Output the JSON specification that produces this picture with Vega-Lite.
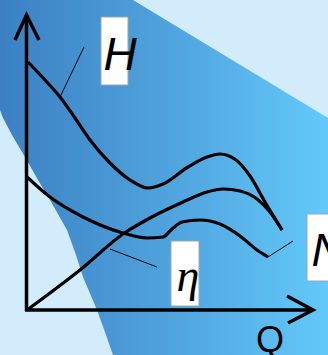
{
  "$schema": "https://vega.github.io/schema/vega-lite/v6.json",
  "width": 328,
  "height": 355,
  "autosize": {"type": "none"},
  "padding": 0,
  "background": "#d3ecfb",
  "config": {"view": {"stroke": null}},
  "datasets": {
    "band": [
      {"y": 0, "xl": 0, "xr": 133},
      {"y": 50, "xl": 0, "xr": 215.6},
      {"y": 110, "xl": 0, "xr": 314.8},
      {"y": 118, "xl": 3, "xr": 328},
      {"y": 135, "xl": 12, "xr": 328},
      {"y": 157, "xl": 25, "xr": 328},
      {"y": 180, "xl": 38, "xr": 328},
      {"y": 200, "xl": 50, "xr": 328},
      {"y": 230, "xl": 67, "xr": 328},
      {"y": 255, "xl": 76, "xr": 328},
      {"y": 277, "xl": 83, "xr": 328},
      {"y": 310, "xl": 97, "xr": 328},
      {"y": 335, "xl": 106, "xr": 328},
      {"y": 355, "xl": 113, "xr": 328}
    ],
    "curves": [
      {"s": "H", "i": 0, "x": 28, "y": 62},
      {"s": "H", "i": 1, "x": 45, "y": 80},
      {"s": "H", "i": 2, "x": 60, "y": 97},
      {"s": "H", "i": 3, "x": 75, "y": 118},
      {"s": "H", "i": 4, "x": 90, "y": 140},
      {"s": "H", "i": 5, "x": 110, "y": 163},
      {"s": "H", "i": 6, "x": 130, "y": 180},
      {"s": "H", "i": 7, "x": 148, "y": 188},
      {"s": "H", "i": 8, "x": 163, "y": 184},
      {"s": "H", "i": 9, "x": 188, "y": 167},
      {"s": "H", "i": 10, "x": 207, "y": 157},
      {"s": "H", "i": 11, "x": 220, "y": 154},
      {"s": "H", "i": 12, "x": 236, "y": 160},
      {"s": "H", "i": 13, "x": 250, "y": 176},
      {"s": "H", "i": 14, "x": 265, "y": 202},
      {"s": "H", "i": 15, "x": 282, "y": 230},
      {"s": "M", "i": 0, "x": 27, "y": 310},
      {"s": "M", "i": 1, "x": 80, "y": 270},
      {"s": "M", "i": 2, "x": 123, "y": 234},
      {"s": "M", "i": 3, "x": 150, "y": 218},
      {"s": "M", "i": 4, "x": 183, "y": 202},
      {"s": "M", "i": 5, "x": 207, "y": 192},
      {"s": "M", "i": 6, "x": 223, "y": 189},
      {"s": "M", "i": 7, "x": 240, "y": 191},
      {"s": "M", "i": 8, "x": 257, "y": 199},
      {"s": "M", "i": 9, "x": 270, "y": 212},
      {"s": "M", "i": 10, "x": 282, "y": 230},
      {"s": "E", "i": 0, "x": 27, "y": 177},
      {"s": "E", "i": 1, "x": 50, "y": 197},
      {"s": "E", "i": 2, "x": 83, "y": 217},
      {"s": "E", "i": 3, "x": 123, "y": 233},
      {"s": "E", "i": 4, "x": 147, "y": 238},
      {"s": "E", "i": 5, "x": 163, "y": 237},
      {"s": "E", "i": 6, "x": 172, "y": 229},
      {"s": "E", "i": 7, "x": 182, "y": 222},
      {"s": "E", "i": 8, "x": 200, "y": 220},
      {"s": "E", "i": 9, "x": 220, "y": 224},
      {"s": "E", "i": 10, "x": 240, "y": 236},
      {"s": "E", "i": 11, "x": 257, "y": 250},
      {"s": "E", "i": 12, "x": 268, "y": 257}
    ],
    "axes": [
      {"s": "v", "i": 0, "x": 26.5, "y": 15},
      {"s": "v", "i": 1, "x": 26.5, "y": 311},
      {"s": "h", "i": 0, "x": 25, "y": 310},
      {"s": "h", "i": 1, "x": 312, "y": 310},
      {"s": "at", "i": 0, "x": 15, "y": 40},
      {"s": "at", "i": 1, "x": 26.5, "y": 15},
      {"s": "at", "i": 2, "x": 39, "y": 40},
      {"s": "ar", "i": 0, "x": 287, "y": 296},
      {"s": "ar", "i": 1, "x": 313, "y": 310},
      {"s": "ar", "i": 2, "x": 288, "y": 323}
    ],
    "leaders": [
      {"s": "H", "i": 0, "x": 60, "y": 97},
      {"s": "H", "i": 1, "x": 84, "y": 47},
      {"s": "E", "i": 0, "x": 110, "y": 249},
      {"s": "E", "i": 1, "x": 157, "y": 267},
      {"s": "N", "i": 0, "x": 268, "y": 257},
      {"s": "N", "i": 1, "x": 293, "y": 241}
    ],
    "boxes": [
      {"x": 101, "x2": 128, "y": 17, "y2": 85},
      {"x": 171, "x2": 199, "y": 241, "y2": 306},
      {"x": 307, "x2": 340, "y": 214, "y2": 281}
    ]
  },
  "layer": [
    {
      "data": {"name": "band"},
      "mark": {
        "type": "area",
        "orient": "horizontal",
        "fill": {
          "gradient": "linear",
          "x1": 0, "y1": 0, "x2": 1, "y2": 0,
          "stops": [
            {"offset": 0, "color": "#3c80c3"},
            {"offset": 0.5, "color": "#4fa2dc"},
            {"offset": 1, "color": "#63c9fa"}
          ]
        }
      },
      "encoding": {
        "y": {"field": "y", "type": "quantitative", "scale": {"domain": [0, 355], "nice": false, "zero": false, "reverse": true}, "axis": null},
        "x": {"field": "xl", "type": "quantitative", "scale": {"domain": [0, 328], "nice": false, "zero": false}, "axis": null},
        "x2": {"field": "xr"}
      }
    },
    {
      "data": {"name": "curves"},
      "mark": {"type": "line", "color": "#000000", "strokeWidth": 3.2, "interpolate": "monotone"},
      "encoding": {
        "x": {"field": "x", "type": "quantitative", "scale": {"domain": [0, 328], "nice": false, "zero": false}, "axis": null},
        "y": {"field": "y", "type": "quantitative", "scale": {"domain": [0, 355], "nice": false, "zero": false, "reverse": true}, "axis": null},
        "detail": {"field": "s"},
        "order": {"field": "i"}
      }
    },
    {
      "data": {"name": "axes"},
      "mark": {"type": "line", "color": "#000000", "strokeWidth": 3.5, "strokeJoin": "miter"},
      "encoding": {
        "x": {"field": "x", "type": "quantitative", "scale": {"domain": [0, 328], "nice": false, "zero": false}, "axis": null},
        "y": {"field": "y", "type": "quantitative", "scale": {"domain": [0, 355], "nice": false, "zero": false, "reverse": true}, "axis": null},
        "detail": {"field": "s"},
        "order": {"field": "i"}
      }
    },
    {
      "data": {"name": "leaders"},
      "mark": {"type": "line", "color": "#000000", "strokeWidth": 1},
      "encoding": {
        "x": {"field": "x", "type": "quantitative", "scale": {"domain": [0, 328], "nice": false, "zero": false}, "axis": null},
        "y": {"field": "y", "type": "quantitative", "scale": {"domain": [0, 355], "nice": false, "zero": false, "reverse": true}, "axis": null},
        "detail": {"field": "s"},
        "order": {"field": "i"}
      }
    },
    {
      "data": {"name": "boxes"},
      "mark": {"type": "rect", "fill": "#ffffff", "stroke": "#9aa6b2", "strokeWidth": 1},
      "encoding": {
        "x": {"field": "x", "type": "quantitative", "scale": {"domain": [0, 328], "nice": false, "zero": false}, "axis": null},
        "x2": {"field": "x2"},
        "y": {"field": "y", "type": "quantitative", "scale": {"domain": [0, 355], "nice": false, "zero": false, "reverse": true}, "axis": null},
        "y2": {"field": "y2"}
      }
    },
    {
      "data": {"values": [{"t": "H", "x": 120, "y": 70}, {"t": "N", "x": 328, "y": 266}]},
      "mark": {"type": "text", "font": "Liberation Sans", "fontStyle": "italic", "fontSize": 46, "align": "center", "baseline": "alphabetic", "color": "#000000"},
      "encoding": {
        "x": {"field": "x", "type": "quantitative", "scale": {"domain": [0, 328], "nice": false, "zero": false}, "axis": null},
        "y": {"field": "y", "type": "quantitative", "scale": {"domain": [0, 355], "nice": false, "zero": false, "reverse": true}, "axis": null},
        "text": {"field": "t"}
      }
    },
    {
      "data": {"values": [{"t": "η", "x": 188, "y": 291}]},
      "mark": {"type": "text", "font": "Liberation Serif", "fontStyle": "italic", "fontSize": 46, "align": "center", "baseline": "alphabetic", "color": "#000000"},
      "encoding": {
        "x": {"field": "x", "type": "quantitative", "scale": {"domain": [0, 328], "nice": false, "zero": false}, "axis": null},
        "y": {"field": "y", "type": "quantitative", "scale": {"domain": [0, 355], "nice": false, "zero": false, "reverse": true}, "axis": null},
        "text": {"field": "t"}
      }
    },
    {
      "data": {"values": [{"t": "Q", "x": 270, "y": 352}]},
      "mark": {"type": "text", "font": "Liberation Sans", "fontSize": 36, "align": "center", "baseline": "alphabetic", "color": "#000000"},
      "encoding": {
        "x": {"field": "x", "type": "quantitative", "scale": {"domain": [0, 328], "nice": false, "zero": false}, "axis": null},
        "y": {"field": "y", "type": "quantitative", "scale": {"domain": [0, 355], "nice": false, "zero": false, "reverse": true}, "axis": null},
        "text": {"field": "t"}
      }
    }
  ]
}
